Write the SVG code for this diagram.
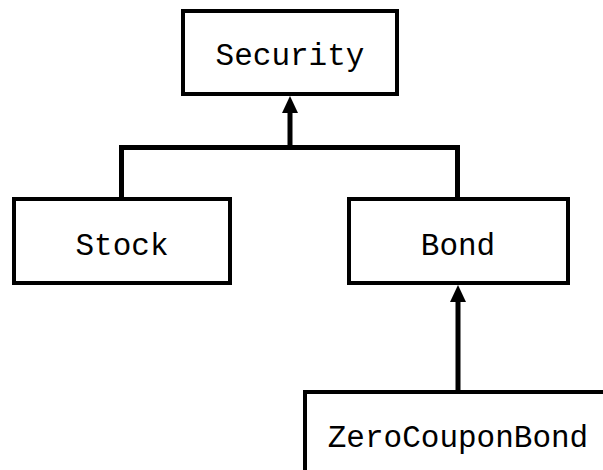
<svg xmlns="http://www.w3.org/2000/svg" width="603" height="470" viewBox="0 0 603 470">
  <style>
    .box { fill: #ffffff; stroke: #000000; stroke-width: 4; }
    .label { font-family: "Liberation Mono", "Courier New", monospace; font-size: 31px; fill: #000000; text-anchor: middle; }
    .wire { fill: none; stroke: #000000; stroke-width: 5; }
  </style>
  <defs>
    <marker id="head" viewBox="0 0 17 16" refX="0" refY="8" markerWidth="17" markerHeight="16" markerUnits="userSpaceOnUse" orient="auto">
      <path d="M0,0 L17,8 L0,16 Z" fill="#000000"/>
    </marker>
  </defs>
  <rect width="603" height="470" fill="#ffffff"/>

  <g id="connectors">
    <!-- Stock and Bond join a common bus that rises to Security -->
    <path class="wire" d="M121.5,199 V147.5 H457.5 V199"/>
    <path class="wire" d="M290,147.5 V113" marker-end="url(#head)"/>
    <!-- ZeroCouponBond up to Bond -->
    <path class="wire" d="M458,392 V302" marker-end="url(#head)"/>
  </g>

  <g id="security">
    <rect class="box" x="183" y="11" width="214" height="83"/>
    <text class="label" x="290" y="65">Security</text>
  </g>

  <g id="stock">
    <rect class="box" x="14" y="199" width="216" height="84"/>
    <text class="label" x="122" y="255">Stock</text>
  </g>

  <g id="bond">
    <rect class="box" x="349" y="199" width="219" height="84"/>
    <text class="label" x="458" y="255">Bond</text>
  </g>

  <g id="zerocouponbond">
    <rect class="box" x="305" y="392" width="310" height="84"/>
    <text class="label" x="458" y="447">ZeroCouponBond</text>
  </g>
</svg>
